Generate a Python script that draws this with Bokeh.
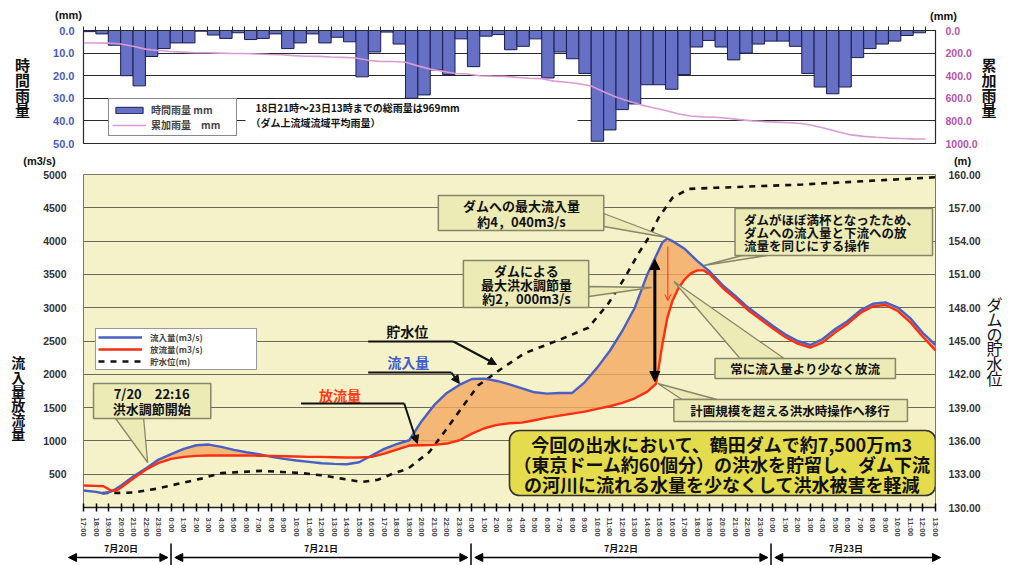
import math
import numpy as np
from bokeh.plotting import figure
from bokeh.models import (Range1d, LinearAxis, FixedTicker, Label, Arrow, NormalHead, OpenHead,
                          BoxAnnotation, Legend, LegendItem, NumeralTickFormatter)
from bokeh.layouts import column
from bokeh.embed import file_html
from bokeh.resources import INLINE

FONT = "Noto Sans CJK JP"
NUMF = "Liberation Sans"

# ---------------- data ----------------
# hourly rainfall (mm), one bar per hour from 7/20 17:00
rain_hourly = [0.5, 1.5, 6.5, 20, 24.5, 11.5, 8, 5.5, 5.5, 0.3, 2, 3.5, 1, 4, 3.5, 1.5, 8, 5.5, 1.5, 5.5, 3,
               5, 20.5, 9.5, 0.7, 6, 30, 28.5, 17.5, 19.5, 3.7, 16, 2.5, 1.8, 8.5, 7, 3.7, 21, 9.5, 12.5,
               19, 49, 44, 35, 32.5, 24, 24, 26,
               19.5, 7.3, 4.4, 7.3, 13, 10, 6, 4.7, 4.7, 7, 19, 25, 28, 25, 12, 8, 6, 4.7, 2.2, 1]
# cumulative rainfall (mm) at hour boundaries
rain_cum = [110, 110, 112, 119, 140, 165, 177, 186, 191, 197, 197, 200, 203, 204, 208, 212, 214, 222, 228,
            229, 235, 238, 243, 264, 274, 275, 281, 313, 342, 361, 381, 385, 401, 404, 406, 415, 422, 426,
            448, 458, 471, 491, 542, 588, 624, 658, 683, 708, 736, 756, 764, 768, 776, 789, 800, 806, 811,
            816, 823, 843, 869, 898, 924, 937, 945, 952, 956, 959, 960]
rain_ticks_left = [0, 10, 20, 30, 40, 50]
rain_ticks_right = [0, 200, 400, 600, 800, 1000]

# hours since 7/20 17:00
flow_hours = [0, 1, 1.6, 2.2, 2.6, 3, 4, 5, 6, 7, 8, 9, 10, 11, 12, 13, 14, 15, 16, 17, 18, 19, 20, 21,
              22, 23, 24, 25, 26, 27, 28, 29, 30, 31, 32, 33, 34, 35, 36, 37, 38, 39, 40, 41, 42, 43, 44,
              45, 45.7, 46.2, 46.6, 47, 47.5, 48, 48.5, 49, 49.5, 50, 51, 52, 53, 54, 55, 56, 57, 58, 59,
              60, 61, 62, 63, 64, 65, 66, 67, 68]
inflow = [255, 235, 210, 240, 280, 330, 470, 590, 720, 800, 880, 935, 945, 910, 865, 830, 800, 760, 730,
          705, 685, 665, 655, 650, 680, 780, 880, 950, 1010, 1300, 1540, 1720, 1840, 1930, 1935, 1900,
          1850, 1790, 1730, 1710, 1720, 1720, 1880, 2100, 2350, 2650, 3000, 3500, 3780, 3980, 4040, 4000,
          3940, 3880, 3790, 3700, 3620, 3540, 3340, 3180, 3010, 2870, 2730, 2600, 2500, 2440, 2530, 2680,
          2800, 2960, 3060, 3080, 3000, 2840, 2620, 2440]
outflow = [330, 325, 320, 255, 250, 300, 440, 570, 670, 730, 760, 775, 780, 780, 780, 780, 778, 775, 770,
           765, 760, 760, 755, 750, 750, 760, 810, 870, 930, 935, 940, 960, 1010, 1110, 1190, 1240, 1265,
           1275, 1310, 1350, 1380, 1410, 1440, 1480, 1520, 1570, 1640, 1740, 1860, 2450, 2850, 3100, 3300,
           3430, 3520, 3560, 3560, 3500, 3300, 3140, 2970, 2830, 2690, 2560, 2460, 2400, 2480, 2630, 2760,
           2920, 3020, 3040, 2950, 2780, 2560, 2360]
level_hours = [1.5, 2.2, 4, 5.9, 7.8, 9.4, 11, 12.6, 14.2, 15.8, 17.4, 19, 20.6, 22.2, 23.5, 24.8, 25.9,
               27.6, 28.8, 30.2, 31.5, 33.1, 35.2, 38.2, 40.3, 41.9, 43.2, 44.3, 45.1, 45.9, 47, 48.3, 50.4,
               57.4, 67.2, 68]
level = [131.3, 131.3, 131.35, 131.7, 132.2, 132.6, 133.1, 133.2, 133.3, 133.2, 133.1, 132.9, 132.6, 132.3,
         132.5, 133.1, 133.5, 135.0, 136.8, 139.0, 141.0, 142.3, 143.9, 145.2, 146.2, 148.4, 150.7, 152.9,
         154.3, 156.1, 157.9, 158.7, 158.8, 159.1, 159.7, 159.75]
flow_ticks = [500, 1000, 1500, 2000, 2500, 3000, 3500, 4000, 4500, 5000]
level_ticks = [130, 133, 136, 139, 142, 145, 148, 151, 154, 157, 160]
time_labels = [f"{(17 + h) % 24}:00" for h in range(69)]
day_labels = ["7月20日", "7月21日", "7月22日", "7月23日"]
day_label_hours = [3, 19, 43, 61]
day_bounds = [7, 31, 55]

W = 1010

# ---------------- helpers (reference pixel -> data) ----------------
def mx(px):
    return (px - 83) / 12.5

def my(py):
    return (507 - py) * 5000 / 333

def tx(px):
    return (px - 83) * 68.8 / 852

def ty(py):
    return (py - 30) * 50 / 113

def lab(p, text, x, y, size, color="#111111", bold=True, align="center", font=FONT):
    p.add_layout(Label(x=x, y=y, text=text, text_font=font, text_font_size=f"{size}px",
                       text_font_style="bold" if bold else "normal", text_color=color,
                       text_align=align, text_baseline="middle"))

def strip(y0, y1, x_range):
    s = figure(width=W, height=y1 - y0, x_range=x_range, y_range=Range1d(y1, y0),
               x_axis_location=None, y_axis_location=None,
               output_backend="svg", toolbar_location=None, frame_align=False,
               min_border=0, min_border_left=0, min_border_right=0, min_border_top=0, min_border_bottom=0)
    s.grid.visible = False
    s.outline_line_color = None
    s.background_fill_color = "white"
    s.border_fill_color = "white"
    return s

def style_axis(ax, size, color, standoff):
    ax.major_label_text_font = NUMF
    ax.major_label_text_font_style = "bold"
    ax.major_label_text_font_size = f"{size}px"
    ax.major_label_text_color = color
    ax.major_tick_out = 0
    ax.major_tick_in = 0
    ax.minor_tick_out = 0
    ax.minor_tick_in = 0
    ax.major_label_standoff = standoff

def stacked_title(ax, text, size, standoff, bold=True, pad=0, lh=0.71):
    ax.axis_label = "\n".join(["\u3000"] * pad + list(text))
    ax.axis_label_orientation = "horizontal"
    ax.axis_label_text_font = FONT
    ax.axis_label_text_font_size = f"{size}px"
    ax.axis_label_text_font_style = "bold" if bold else "normal"
    ax.axis_label_text_color = "#111111"
    ax.axis_label_text_line_height = lh
    ax.axis_label_standoff = standoff

# ================= strip 1: units above the rainfall chart =================
s1 = strip(0, 26, Range1d(0, W))
lab(s1, "(mm)", 68, 14, 11, font=NUMF)
lab(s1, "(mm)", 943, 15, 11, font=NUMF)

# ================= top: rainfall =================
top = figure(width=W, height=124, x_range=Range1d(0, 68.8), y_range=Range1d(50, 0),
             output_backend="svg", toolbar_location=None,
             min_border_left=83, min_border_right=75, min_border_top=4, min_border_bottom=7)
top.extra_y_ranges = {"cum": Range1d(1000, 0)}
top.xaxis.visible = False
top.xgrid.visible = False
top.ygrid.ticker = FixedTicker(ticks=[10, 20, 30, 40])
top.ygrid.grid_line_color = "#2a2a2a"
top.ygrid.grid_line_width = 1.2
top.outline_line_color = "#2a2a2a"
top.outline_line_width = 1.2

yl = top.yaxis[0]
yl.ticker = FixedTicker(ticks=rain_ticks_left)
yl.formatter = NumeralTickFormatter(format="0.0")
style_axis(yl, 11, "#4a5bb8", 9)
yl.axis_line_color = "#2a2a2a"
stacked_title(yl, "時間雨量", 15, 20)

yr = LinearAxis(y_range_name="cum", ticker=FixedTicker(ticks=rain_ticks_right),
                formatter=NumeralTickFormatter(format="0.0"))
style_axis(yr, 10.5, "#b455aa", 10)
yr.axis_line_color = "#2a2a2a"
stacked_title(yr, "累加雨量", 15, 1)
top.add_layout(yr, "right")

xa = LinearAxis(ticker=FixedTicker(ticks=list(range(69))),
                major_label_overrides={i: "" for i in range(69)})
xa.major_label_text_font_size = "0px"
xa.major_label_standoff = 0
xa.major_tick_out = 4
xa.major_tick_in = 0
xa.minor_tick_out = 0
xa.minor_tick_in = 0
xa.axis_line_color = "#2a2a2a"
xa.major_tick_line_color = "#2a2a2a"
top.add_layout(xa, "above")

bars = top.vbar(x=np.arange(len(rain_hourly)) + 0.5, width=1, bottom=0, top=rain_hourly,
                fill_color="#6670c4", line_color="#1a1c55", line_width=1)
cum = top.line(x=np.arange(len(rain_cum)), y=rain_cum, y_range_name="cum",
               line_color="#d99bd4", line_width=1.6)

# white box behind the note
top.add_layout(BoxAnnotation(left=tx(245), right=tx(577), top=ty(101), bottom=ty(129),
                             fill_color="white", fill_alpha=1, line_alpha=0))
lab(top, "18日21時～23日13時までの総雨量は969mm", tx(255), ty(107), 10, align="left")
lab(top, "（ダム上流域流域平均雨量）", tx(250), ty(122), 10, align="left")

leg_top = Legend(items=[LegendItem(label="時間雨量 mm", renderers=[bars]),
                        LegendItem(label="累加雨量　mm", renderers=[cum])],
                 location=(25, 7))
leg_top.label_text_font = FONT
leg_top.label_text_font_size = "10px"
leg_top.label_text_font_style = "bold"
leg_top.glyph_width = 34
leg_top.glyph_height = 8
leg_top.label_height = 10
leg_top.label_width = 82
leg_top.label_standoff = 5
leg_top.spacing = 0
leg_top.padding = 3
leg_top.margin = 0
leg_top.border_line_color = "#111111"
leg_top.border_line_width = 1.2
leg_top.background_fill_alpha = 1
top.add_layout(leg_top, "center")

# ================= strip 2: units above the flow chart =================
s2 = strip(150, 168, Range1d(0, W))
lab(s2, "(m3/s)", 39, 160, 11, font=NUMF)
lab(s2, "(m)", 962, 160, 11, font=NUMF)

# ================= main: flows =================
main = figure(width=W, height=372, x_range=Range1d(0, 68), y_range=Range1d(0, 5000),
              output_backend="svg", toolbar_location=None,
              min_border_left=83, min_border_right=75, min_border_top=6, min_border_bottom=33)
main.extra_y_ranges = {"wl": Range1d(130, 160)}
main.background_fill_color = "#f5f1c8"
main.border_fill_color = "white"
main.outline_line_color = "#77776a"
main.xgrid.visible = False
main.ygrid.ticker = FixedTicker(ticks=flow_ticks)
main.ygrid.grid_line_color = "#6a6a5a"
main.ygrid.grid_line_width = 1

ml = main.yaxis[0]
ml.ticker = FixedTicker(ticks=flow_ticks)
style_axis(ml, 10.5, "#333333", 17)
ml.axis_line_color = None
stacked_title(ml, "流入量放流量", 14, 15, pad=8)

mr = LinearAxis(y_range_name="wl", ticker=FixedTicker(ticks=level_ticks),
                formatter=NumeralTickFormatter(format="0.00"))
style_axis(mr, 10.5, "#333333", 13)
mr.axis_line_color = None
stacked_title(mr, "ダムの貯水位", 16, 3, bold=False, lh=0.62)
main.add_layout(mr, "right")

mb = main.xaxis[0]
mb.ticker = FixedTicker(ticks=list(range(69)))
mb.major_label_overrides = {i: t for i, t in enumerate(time_labels)}
mb.major_label_orientation = -math.pi / 2
mb.major_label_text_font = NUMF
mb.major_label_text_font_style = "bold"
mb.major_label_text_font_size = "7.5px"
mb.major_label_text_color = "#444444"
mb.major_tick_in = 4
mb.major_tick_out = 4
mb.minor_tick_in = 0
mb.minor_tick_out = 0
mb.major_tick_line_width = 1.5
mb.axis_line_width = 1.5
mb.axis_line_color = "#222222"
mb.major_label_standoff = 6

main.varea(x=flow_hours, y1=outflow, y2=np.maximum(inflow, outflow),
           fill_color="#f4a962", fill_alpha=0.8)
wl_line = main.line(x=level_hours, y=level, y_range_name="wl", line_color="#111111",
                    line_width=2.6, line_dash="6 6")
in_line = main.line(x=flow_hours, y=inflow, line_color="#4a5fc4", line_width=2.4)
out_line = main.line(x=flow_hours, y=outflow, line_color="#ff2e10", line_width=2.4)

leg_main = Legend(items=[LegendItem(label="流入量(m3/s)", renderers=[in_line]),
                         LegendItem(label="放流量(m3/s)", renderers=[out_line]),
                         LegendItem(label="貯水位(m)", renderers=[wl_line])],
                  location=(12, 137))
leg_main.label_text_font = FONT
leg_main.label_text_font_size = "8.5px"
leg_main.label_text_font_style = "bold"
leg_main.glyph_width = 44
leg_main.glyph_height = 8
leg_main.label_height = 8
leg_main.label_width = 104
leg_main.label_standoff = 8
leg_main.spacing = 0
leg_main.padding = 2
leg_main.margin = 0
leg_main.border_line_color = "#333333"
leg_main.border_line_width = 1.2
leg_main.background_fill_alpha = 1
main.add_layout(leg_main, "center")

CALL_FILL = "#ecebb6"
CALL_LINE = "#86866a"

def pointer(pts):
    main.patch(x=[mx(a) for a, b in pts], y=[my(b) for a, b in pts],
               fill_color=CALL_FILL, line_color=CALL_LINE, line_width=1.3)

def callbox(l, t, r, b, fill=CALL_FILL, line=CALL_LINE, radius=0, lw=1.5):
    main.add_layout(BoxAnnotation(left=mx(l), right=mx(r), top=my(t), bottom=my(b),
                                  fill_color=fill, fill_alpha=1, line_color=line,
                                  line_alpha=1, line_width=lw, border_radius=radius))

pointer([(115, 418), (143, 418), (147, 462)])
pointer([(602, 213), (602, 226), (665, 237)])
pointer([(587, 286), (587, 296), (650, 287)])
pointer([(740, 255), (765, 255), (702, 265)])
pointer([(672, 281), (738, 358), (782, 358)])
pointer([(656, 383), (680, 399), (715, 399)])

callbox(93, 383, 210, 418)
callbox(437, 195, 602, 230)
callbox(462, 260, 587, 307)
callbox(733, 208, 930, 255)
callbox(713, 358, 893, 378)
callbox(672, 399, 905, 421)
callbox(508, 430, 933, 495, fill="#e4dc4c", line="#333333", radius=10, lw=1.6)

lab(main, "7/20　22:16", mx(151), my(393), 13)
lab(main, "洪水調節開始", mx(151), my(408), 13)
lab(main, "ダムへの最大流入量", mx(520), my(205), 13)
lab(main, "約4，040m3/s", mx(520), my(221), 13)
lab(main, "ダムによる", mx(525), my(270), 13)
lab(main, "最大洪水調節量", mx(525), my(284), 13)
lab(main, "約2，000m3/s", mx(525), my(298), 13)
lab(main, "ダムがほぼ満杯となったため、", mx(742), my(219), 12.5, align="left")
lab(main, "ダムへの流入量と下流への放", mx(742), my(232), 12.5, align="left")
lab(main, "流量を同じにする操作", mx(742), my(245), 12.5, align="left")
lab(main, "常に流入量より少なく放流", mx(803), my(368), 12.5)
lab(main, "計画規模を超える洪水時操作へ移行", mx(788), my(410), 12.5)
lab(main, "今回の出水において、鶴田ダムで約7,500万m3", mx(720), my(443), 18)
lab(main, "（東京ドーム約60個分）の洪水を貯留し、ダム下流", mx(720), my(463), 18)
lab(main, "の河川に流れる水量を少なくして洪水被害を軽減", mx(720), my(483), 18)

# pointer labels with arrows
lab(main, "貯水位", mx(406), my(330), 14)
lab(main, "流入量", mx(407), my(361), 14, color="#3f5ccc")
lab(main, "放流量", mx(339), my(394), 14, color="#ff3a10")
for (x0, y0, x1, y1) in [(367, 341, 452, 341), (367, 372, 450, 372), (300, 403, 403, 403)]:
    main.add_layout(Arrow(x_start=mx(x0), y_start=my(y0), x_end=mx(x1), y_end=my(y1), end=None,
                          line_color="#111111", line_width=2))
for (x0, y0, x1, y1) in [(452, 341, 495, 364), (450, 372, 458, 383), (403, 403, 416, 443)]:
    main.add_layout(Arrow(x_start=mx(x0), y_start=my(y0), x_end=mx(x1), y_end=my(y1),
                          end=NormalHead(size=8, fill_color="#111111", line_color="#111111"),
                          line_color="#111111", line_width=2))

# regulation arrows
main.add_layout(Arrow(x_start=mx(653), y_start=my(381), x_end=mx(653), y_end=my(259),
                      start=NormalHead(size=10, fill_color="black", line_color="black"),
                      end=NormalHead(size=10, fill_color="black", line_color="black"),
                      line_color="black", line_width=3))
main.add_layout(Arrow(x_start=mx(666), y_start=my(246), x_end=mx(666), y_end=my(300),
                      end=OpenHead(size=6, line_color="#ff2e10", line_width=1),
                      line_color="#ff2e10", line_width=1))

# ================= strip 3: dates =================
s3 = strip(540, 565, Range1d(mx(0), mx(W)))
for t, h in zip(day_labels, day_label_hours):
    lab(s3, t, h, 548, 9)
spans = [(mx(68), 6.75), (7.3, 30.75), (31.3, 54.75), (55.3, mx(940))]
for a, b in spans:
    s3.add_layout(Arrow(x_start=a, y_start=557, x_end=b, y_end=557,
                        start=NormalHead(size=8, fill_color="black", line_color="black"),
                        end=NormalHead(size=8, fill_color="black", line_color="black"),
                        line_color="black", line_width=1.5))
for h in day_bounds:
    s3.add_layout(Arrow(x_start=h, y_start=543, x_end=h, y_end=565, end=None,
                        line_color="black", line_width=1.5))

layout = column(s1, top, s2, main, s3, spacing=0)
open("out.html", "w").write(file_html(layout, INLINE))
